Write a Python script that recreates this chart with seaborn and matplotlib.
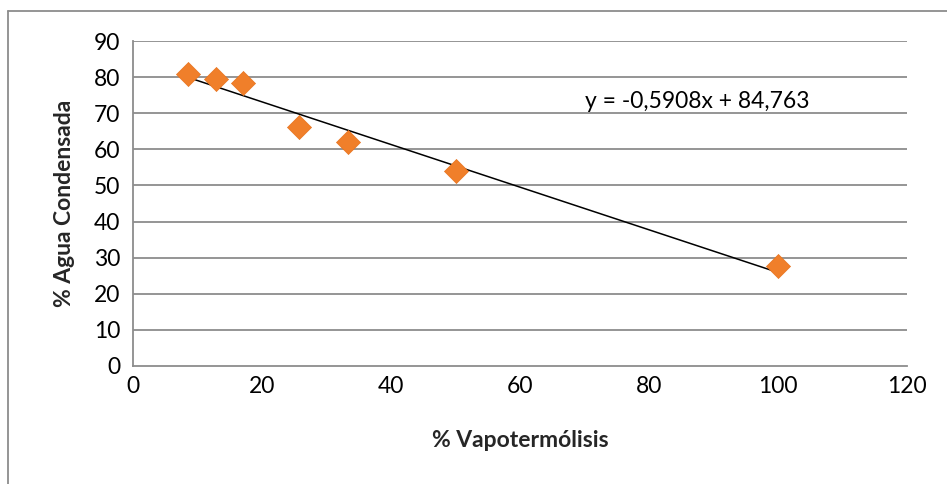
import matplotlib
matplotlib.use("Agg")
import matplotlib.pyplot as plt
import seaborn as sns
import pandas as pd
from matplotlib.lines import Line2D

# Data
vapotermolisis = [8.5, 12.9, 17.0, 25.7, 33.3, 50.0, 100.0]
agua_condensada = [80.8, 79.4, 78.5, 66.3, 61.9, 54.0, 27.7]
x_ticks = [0, 20, 40, 60, 80, 100, 120]
y_ticks = [0, 10, 20, 30, 40, 50, 60, 70, 80, 90]
equation_label = "y = -0,5908x + 84,763"

df = pd.DataFrame({"x": vapotermolisis, "y": agua_condensada})

sns.set_theme(style="white")
plt.rcParams["font.family"] = ["Lato", "DejaVu Sans"]

fig = plt.figure(figsize=(9.47, 4.84), dpi=100)
ax = fig.add_axes([133/947, 1 - 366/484, (907 - 133)/947, (366 - 41)/484])

grid_color = "#8c8c8c"
for yv in y_ticks[1:]:
    ax.axhline(yv, color=grid_color, lw=1.3, zorder=0)

sns.regplot(data=df, x="x", y="y", ax=ax, ci=None, scatter=False,
            line_kws=dict(color="black", lw=1.1, zorder=2))
sns.scatterplot(data=df, x="x", y="y", ax=ax, marker="D", s=150,
                color="#F07F2A", edgecolor="#E8741F", linewidth=0.5, zorder=3)

ax.set_xlim(0, 120)
ax.set_ylim(0, 90)
ax.set_xticks(x_ticks)
ax.set_yticks(y_ticks)
ax.tick_params(axis="both", length=0, labelsize=16.5, colors="black")
ax.tick_params(axis="x", pad=7)
ax.tick_params(axis="y", pad=9)

for side in ["top", "right"]:
    ax.spines[side].set_visible(False)
for side in ["left", "bottom"]:
    ax.spines[side].set_color(grid_color)
    ax.spines[side].set_linewidth(1.3)

ax.set_xlabel("% Vapotermólisis", fontsize=16.5, fontweight="bold", labelpad=24)
ax.set_ylabel("% Agua Condensada", fontsize=16.5, fontweight="bold", labelpad=14)

ax.text(0.584, 0.815, equation_label, transform=ax.transAxes,
        fontsize=16.5, color="black", ha="left", va="center")

# Outer chart border (partially visible)
fig.add_artist(Line2D([8/947, 1], [1 - 11/484, 1 - 11/484],
                      transform=fig.transFigure, color="#8c8c8c", lw=1.3))
fig.add_artist(Line2D([8/947, 8/947], [0, 1 - 11/484],
                      transform=fig.transFigure, color="#8c8c8c", lw=1.3))

fig.savefig("out.png", dpi=100, facecolor="white")
